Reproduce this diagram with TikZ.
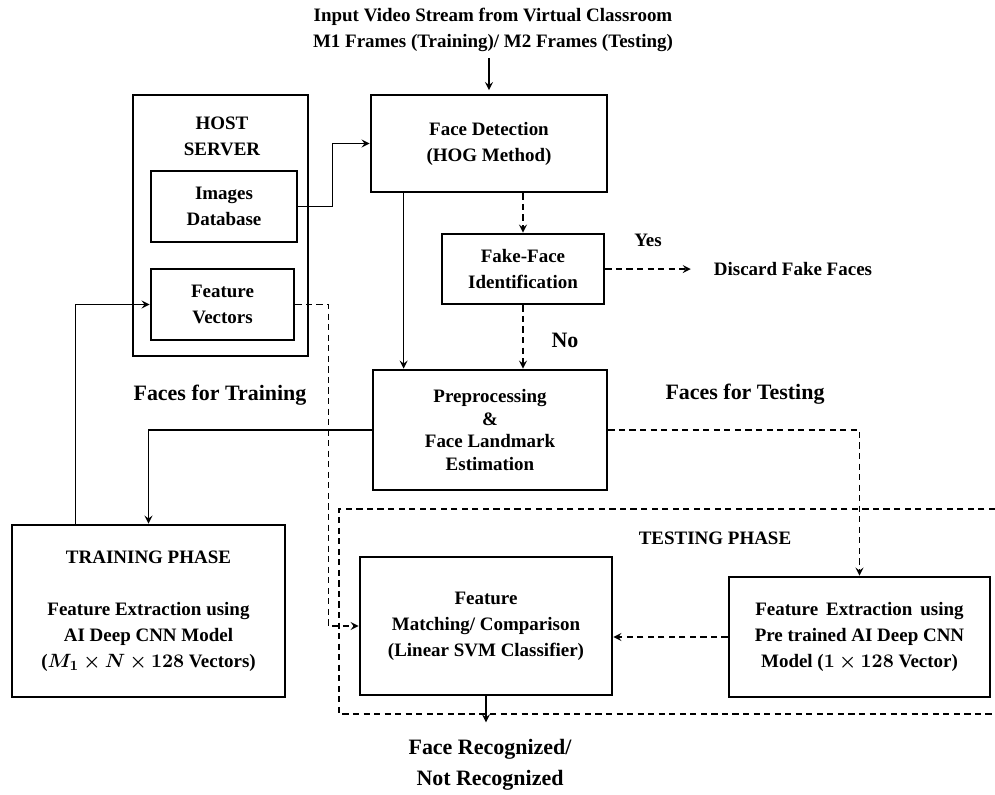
\documentclass[tikz,border=0pt]{standalone}
\usepackage{bm}
\usepackage{fontspec}
\setmainfont{Liberation Serif}
\begin{document}
\begin{tikzpicture}[x=0.02cm, y=-0.02cm, font=\bfseries\fontsize{10.8}{14.8}\selectfont,
  box/.style={draw, ultra thick, align=center, inner sep=2pt},
  line/.style={line width=1pt, -stealth},
  dline/.style={line width=1pt, -stealth, dash pattern=on 3.5pt off 2.5pt},
  lbl/.style={font=\bfseries\fontsize{12.5}{17.6}\selectfont, align=center}]
\useasboundingbox (0,0) rectangle (995,795);
\node[align=center] (input) at (493,30) {Input Video Stream from Virtual Classroom\\M1 Frames (Training)/ M2 Frames (Testing)};
\node[box, minimum width=3.5cm, minimum height=5.22cm] (host) at (220.5,225.5) {};
\node[align=center] (hostlbl) at (222,136) {HOST\\SERVER};
\node[box, minimum width=2.92cm, minimum height=1.42cm] (imgdb) at (224,206.5) {Images\\Database};
\node[box, minimum width=2.86cm, minimum height=1.42cm] (featvec) at (222.5,304.5) {Feature\\Vectors};
\node[box, minimum width=4.72cm, minimum height=1.94cm] (facedet) at (489,143.5) {Face Detection\\(HOG Method)};
\node[box, minimum width=3.24cm, minimum height=1.4cm] (fake) at (523,269) {Fake-Face\\Identification};
\node (discard) at (793,269) {Discard Fake Faces};
\node (yes) at (648,240) {Yes};
\node[lbl] (no) at (565,340) {No};
\node[box, minimum width=4.68cm, minimum height=2.4cm, font=\bfseries\fontsize{10.8}{13}\selectfont] (prep) at (490,430) {Preprocessing\\\&\\Face Landmark\\Estimation};
\node[lbl] (trainlbl) at (220,395) {Faces for Training};
\node[lbl] (testlbl) at (745,394) {Faces for Testing};
\node[box, minimum width=5.46cm, minimum height=3.44cm] (train) at (148.5,611) {TRAINING PHASE\\[14.8pt]Feature Extraction using\\AI Deep CNN Model\\($\bm{M_1\times N\times 128}$ Vectors)};
\draw[line width=1pt, dash pattern=on 3.5pt off 2.5pt] (995,509) -- (339,509) -- (339,714) -- (995,714);
\node (testphase) at (715,538) {TESTING PHASE};
\node[box, minimum width=5.04cm, minimum height=2.76cm] (match) at (486,626) {Feature\\Matching/ Comparison\\(Linear SVM Classifier)};
\node[box, minimum width=5.22cm, minimum height=2.4cm] (fext) at (859.5,637) {Feature\, Extraction\, using\\Pre trained AI Deep CNN\\Model ($\bm{1\times 128}$ Vector)};
\node[lbl] (result) at (490,765) {Face Recognized/\\Not Recognized};
\draw[line] (facedet.north |- input.south) -- ([yshift=2pt]facedet.north);
\draw[line] (imgdb.east) -- ++(34,0) |- (facedet.west);
\draw[dline] (fake.north |- facedet.south) -- (fake.north);
\draw[dline] (fake.east) -- ([xshift=-0.34cm]discard.west);
\draw[line] ([xshift=0.64cm]prep.north west |- facedet.south) -- ([xshift=0.64cm]prep.north west);
\draw[dline] (fake.south) -- (fake.south |- prep.north);
\draw[line] (prep.west) -| (train.north);
\draw[line] ([xshift=1.3cm]train.north west) |- (featvec.west);
\draw[dline] (featvec.east) -- ++(33,0) |- (match.west);
\draw[dline] (prep.east) -| (fext.north);
\draw[dline] (fext.west) -- (match.east |- fext.west);
\draw[line] (match.south) -- ([yshift=0.22cm]match.south |- result.north);
\end{tikzpicture}
\end{document}
